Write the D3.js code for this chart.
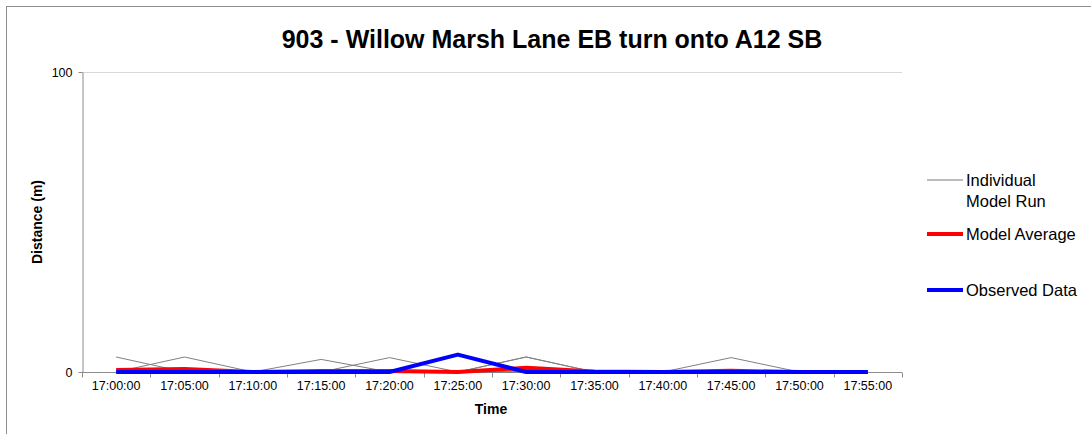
<!DOCTYPE html>
<html>
<head>
<meta charset="utf-8">
<script src="https://cdn.jsdelivr.net/npm/d3@7"></script>
<style>
  body { margin: 0; background: #fff; }
  svg text { font-family: "Liberation Sans", Arial, sans-serif; }
</style>
</head>
<body>
<div id="chart"></div>
<script>
const times = ['17:00:00', '17:05:00', '17:10:00', '17:15:00', '17:20:00', '17:25:00',
               '17:30:00', '17:35:00', '17:40:00', '17:45:00', '17:50:00', '17:55:00'];

// individual model runs (grey)
const run1 = [5, 0, 0, 0, 0, 0, 0, 0, 0, 0, 0, 0];
const run2 = [0, 5, 0, 0, 0, 0, 0, 0, 0, 0, 0, 0];
const run3 = [0, 0, 0, 4.2, 0, 0, 0, 0, 0, 0, 0, 0];
const run4 = [0, 0, 0, 0, 4.8, 0, 0, 0, 0, 0, 0, 0];
const run5 = [0, 0, 0, 0, 0, 0, 5, 0, 0, 0, 0, 0];
const run6 = [0, 0, 0, 0, 0, 0, 5, 0, 0, 0, 0, 0];
const run7 = [0, 0, 0, 0, 0, 0, 0, 0, 0, 4.8, 0, 0];
const runs = [run1, run2, run3, run4, run5, run6, run7];

const modelAverage = [0.7, 1.0, 0, 0.3, 0.3, 0, 1.4, 0.2, 0, 0.4, 0, 0];
const observed = [0, 0, 0, 0, 0, 5.8, 0, 0, 0, 0, 0, 0];

const yTicks = [0, 100];

const W = 1091, H = 434;
const margin = {top: 72, right: 189, bottom: 62, left: 82};
const width = W - margin.left - margin.right;
const height = H - margin.top - margin.bottom;

const svg = d3.select('#chart').append('svg')
    .attr('width', W)
    .attr('height', H);

// outer chart frame
svg.append('rect')
    .attr('x', 6.5).attr('y', 6.5)
    .attr('width', W + 20).attr('height', H + 20)
    .attr('fill', 'none')
    .attr('stroke', '#8c8c8c')
    .attr('stroke-width', 1);

const g = svg.append('g')
    .attr('transform', `translate(${margin.left},${margin.top})`);

const x = d3.scaleBand().domain(times).range([0, width]);
const y = d3.scaleLinear().domain([0, 100]).range([height, 0]);
const cx = d => x(d) + x.bandwidth() / 2;

// gridline at 100
g.append('line')
    .attr('x1', 0).attr('x2', width)
    .attr('y1', y(100) + 0.5).attr('y2', y(100) + 0.5)
    .attr('stroke', '#d9d9d9');

// y axis
const yAxis = g.append('g')
    .attr('transform', 'translate(0.5,0)')
    .call(d3.axisLeft(y).tickValues(yTicks).tickSize(4).tickSizeOuter(0));
yAxis.attr('font-family', null);
yAxis.select('.domain').attr('stroke', '#8c8c8c');
yAxis.selectAll('.tick line').attr('stroke', '#8c8c8c');
yAxis.selectAll('.tick text').attr('font-size', 12.5).attr('fill', '#000').attr('x', -10);

// x axis, ticks on category boundaries
const xAxisG = g.append('g').attr('transform', `translate(0,${height + 0.5})`);
xAxisG.append('line')
    .attr('x1', 0).attr('x2', width)
    .attr('stroke', '#8c8c8c');
xAxisG.selectAll('.xtick')
    .data(d3.range(times.length + 1))
    .enter().append('line')
    .attr('class', 'xtick')
    .attr('x1', i => Math.round(i * x.step()) + 0.5)
    .attr('x2', i => Math.round(i * x.step()) + 0.5)
    .attr('y1', 0).attr('y2', 5)
    .attr('stroke', '#8c8c8c');
xAxisG.selectAll('.xlabel')
    .data(times)
    .enter().append('text')
    .attr('class', 'xlabel')
    .attr('x', d => cx(d))
    .attr('y', 17)
    .attr('text-anchor', 'middle')
    .attr('font-size', 12.5)
    .text(d => d);

const line = d3.line()
    .x((d, i) => cx(times[i]))
    .y(d => y(d));

// individual runs
g.selectAll('.run')
    .data(runs)
    .enter().append('path')
    .attr('class', 'run')
    .attr('d', line)
    .attr('fill', 'none')
    .attr('stroke', '#808080')
    .attr('stroke-width', 1);

g.append('path')
    .attr('d', line(modelAverage))
    .attr('fill', 'none')
    .attr('stroke', '#ff0000')
    .attr('stroke-width', 4)
    .attr('stroke-linejoin', 'round');

g.append('path')
    .attr('d', line(observed))
    .attr('fill', 'none')
    .attr('stroke', '#0000ff')
    .attr('stroke-width', 4)
    .attr('stroke-linejoin', 'round');

// title
svg.append('text')
    .attr('x', 552).attr('y', 48)
    .attr('text-anchor', 'middle')
    .attr('font-size', 25)
    .attr('font-weight', 'bold')
    .text('903 - Willow Marsh Lane EB turn onto A12 SB');

// axis titles
svg.append('text')
    .attr('x', 491).attr('y', 414)
    .attr('text-anchor', 'middle')
    .attr('font-size', 14)
    .attr('font-weight', 'bold')
    .text('Time');

svg.append('text')
    .attr('transform', `translate(42,${margin.top + height / 2}) rotate(-90)`)
    .attr('text-anchor', 'middle')
    .attr('font-size', 14)
    .attr('font-weight', 'bold')
    .text('Distance (m)');

// legend
const legend = [
    {lines: ['Individual', 'Model Run'], color: '#a6a6a6', w: 1.5, y: 180},
    {lines: ['Model Average'], color: '#ff0000', w: 4, y: 234},
    {lines: ['Observed Data'], color: '#0000ff', w: 4, y: 290}
];
const lg = svg.append('g');
legend.forEach(item => {
    lg.append('line')
        .attr('x1', 927).attr('x2', 963)
        .attr('y1', item.y).attr('y2', item.y)
        .attr('stroke', item.color)
        .attr('stroke-width', item.w);
    item.lines.forEach((t, i) => {
        lg.append('text')
            .attr('x', 966)
            .attr('y', item.y + 6 + i * 21)
            .attr('font-size', 16.5)
            .text(t);
    });
});
</script>
</body>
</html>
